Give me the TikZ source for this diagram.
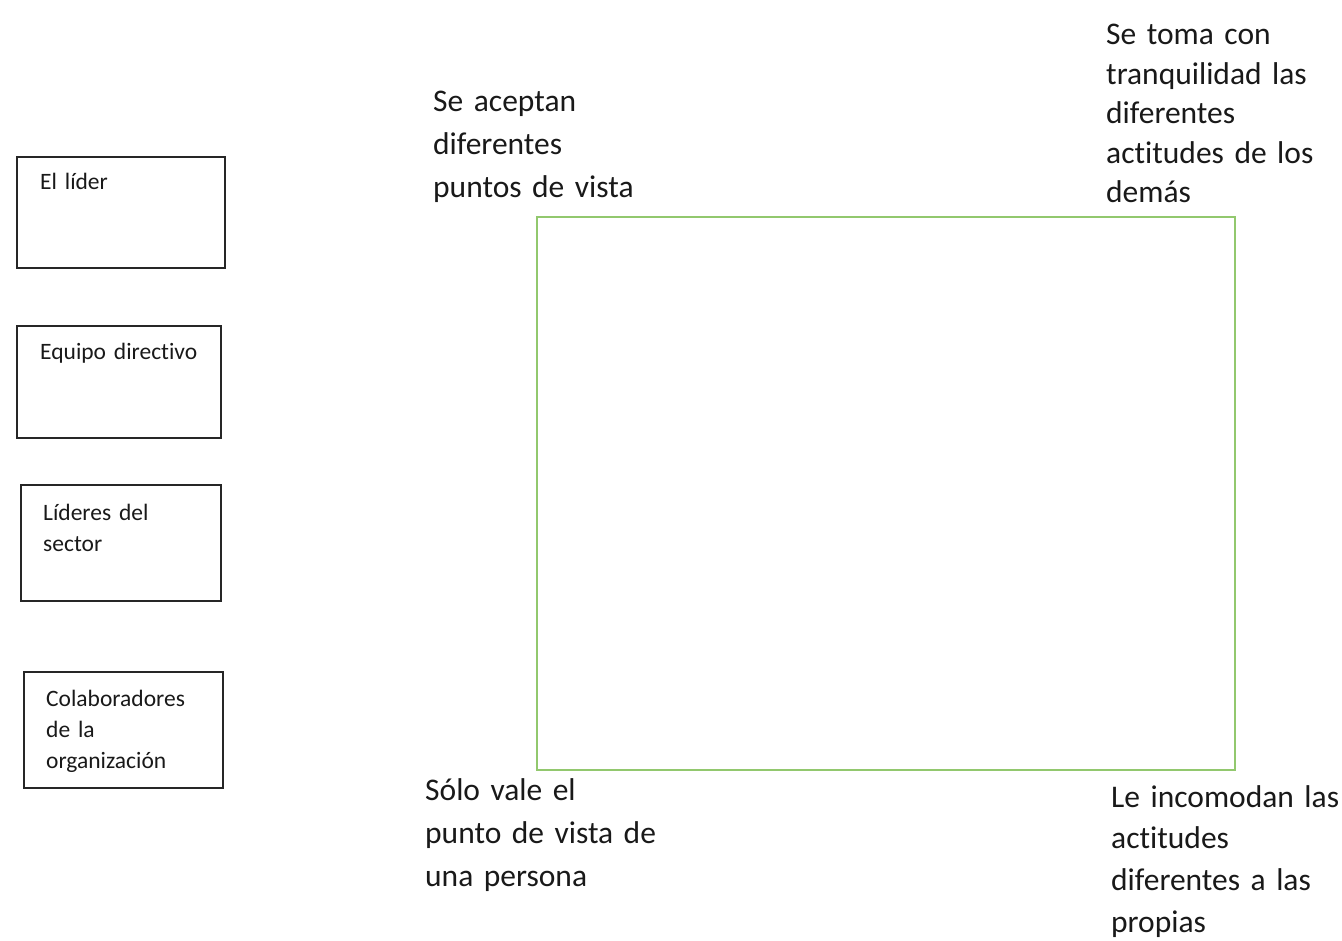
\documentclass[tikz,border=0pt]{standalone}
\usepackage{fontspec}
\setmainfont[Ligatures={NoCommon,NoContextual}]{Carlito}
\definecolor{verdeclaro}{RGB}{146,200,110}
\newcommand\espacio{\spaceskip=0.2em\relax}
\begin{document}
\begin{tikzpicture}[x=1pt,y=-1pt]
	\useasboundingbox (0,0) rectangle (1342,941);
	\begin{scope}[every node/.style={rectangle,draw=black!85,line width=1.8pt,inner sep=0pt,anchor=north west}]
	\node[minimum width=208pt,minimum height=111pt] (caja1) at (16,156){};
	\node[minimum width=204pt,minimum height=112pt] (caja2) at (16,325){};
	\node[minimum width=200pt,minimum height=116pt] (caja3) at (20,484){};
	\node[minimum width=199pt,minimum height=116pt] (caja4) at (23,671){};
	\end{scope}
	\node[rectangle,draw=verdeclaro,line width=2pt,inner sep=0pt,anchor=north west,
		minimum width=698pt,minimum height=553pt] (cuadro) at (536,216){};
	\begin{scope}[every node/.style={anchor=base west,inner sep=0pt,align=left,text width=190pt,
		text=black!90,font=\fontsize{23.5}{31}\selectfont\espacio}]
	\node (lider) at (40,190){El líder};
	\node (equipo) at (40,360){Equipo directivo};
	\node (sector) at (43,520){Líderes del\\sector};
	\node (colab) at (46,706){Colaboradores\\de la\\organización};
	\end{scope}
	\begin{scope}[every node/.style={anchor=base west,inner sep=0pt,align=left,text width=260pt,
		text=black!90,font=\fontsize{31.5}{43}\selectfont\espacio}]
	\node (acepta) at (433,112){Se aceptan\\diferentes\\puntos de vista};
	\node[font=\fontsize{31.5}{39.5}\selectfont\espacio] (tranq) at (1106,45){Se toma con\\tranquilidad las\\diferentes\\actitudes de los\\demás};
	\node (solo) at (425,800){Sólo vale el\\punto de vista de\\una persona};
	\node[font=\fontsize{31.5}{41.7}\selectfont\espacio] (incom) at (1111,807){Le incomodan las\\actitudes\\diferentes a las\\propias};
	\end{scope}
\end{tikzpicture}
\end{document}
